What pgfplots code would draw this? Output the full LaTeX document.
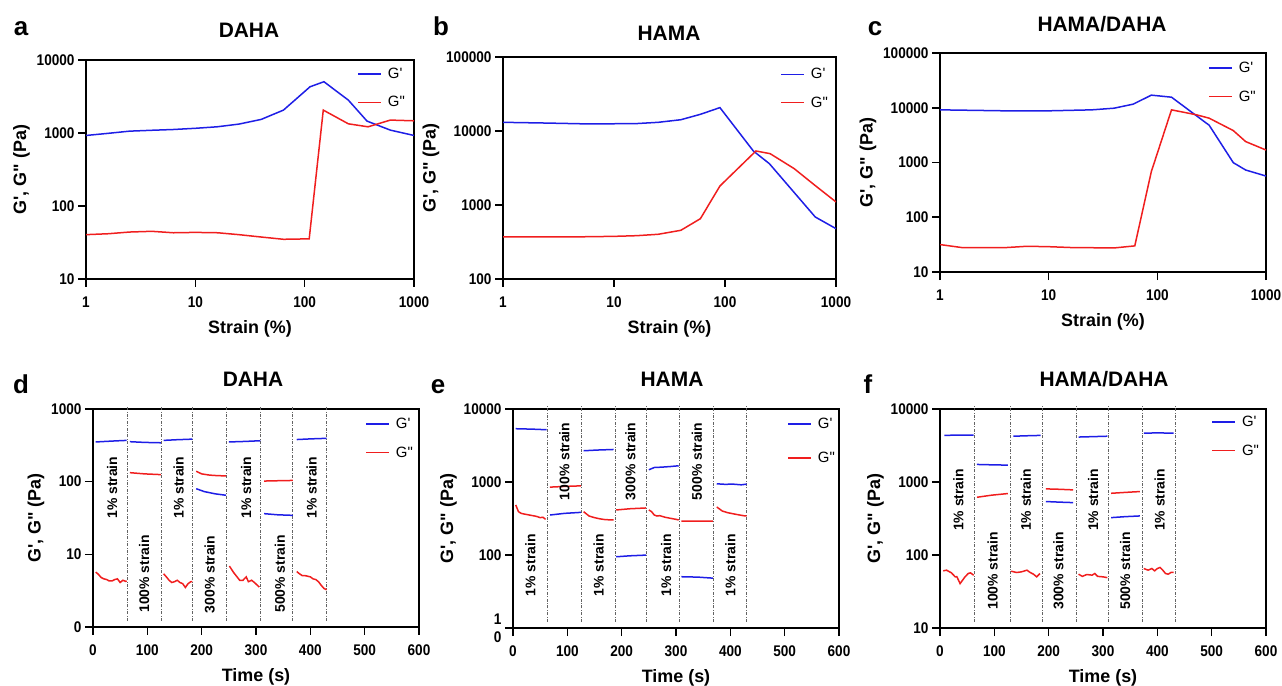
\documentclass[border=0pt]{standalone}
\usepackage{fontspec}
\setmainfont{Liberation Sans}[Ligatures=TeXOff]
\newfontfamily\tickfont{Liberation Sans}[FakeStretch=0.88,Ligatures=TeXOff]
\usepackage{pgfplots}
\pgfplotsset{compat=1.18}
\definecolor{gblue}{RGB}{30,30,230}
\definecolor{gred}{RGB}{240,30,30}
\definecolor{vgray}{RGB}{100,100,100}
\tikzset{
  gp/.style={gblue, line width=1.5bp},
  gpp/.style={gred, line width=1.5bp},
  vl/.style={vgray, line width=0.9bp, dash pattern=on 3bp off 1.5bp on 0.8bp off 1.5bp},
  st/.style={rotate=90, font=\bfseries\fontsize{14}{16}\selectfont},
}
\pgfplotsset{
  panel/.style={
    scale only axis, anchor=south west,
    axis line style={line width=2bp},
    tick style={line width=1.6bp, black},
    major tick length=8bp, tick align=outside, tick pos=left,
    minor tick style={draw=none},
    ticklabel style={font=\tickfont\fontsize{15.5}{17}\selectfont\bfseries},
    xticklabel style={yshift=-6bp},
    /pgf/number format/assume math mode=true,
    label style={font=\bfseries\fontsize{18}{21}\selectfont},
    xlabel style={yshift=-6bp},
    legend style={draw=none, fill=none, font=\fontsize{15}{18}\selectfont,
      row sep=12.5bp, column sep=4bp, inner sep=0pt, cells={anchor=west}, anchor=north east},
    legend image code/.code={\draw[##1] (0bp,0bp) -- (23bp,0bp);},
    unbounded coords=jump,
  },
  strainaxis/.style={panel, xmin=1, xmax=1000,
    xtick={1,10,100,1000}, xticklabels={1,10,100,1000},
    xlabel={Strain (\%)}, ylabel={G', G" (Pa)}},
  timeaxis/.style={panel, xmin=0, xmax=600,
    xtick={0,100,200,300,400,500,600}, xlabel={Time (s)}, ylabel={G', G" (Pa)},
    clip=false},
}
\newcommand{\ttl}[3]{\node[anchor=base, font=\bfseries\fontsize{21}{24}\selectfont] at (#1bp,-#2bp) {#3};}
\newcommand{\lt}[3]{\node[anchor=base, font=\bfseries\fontsize{26}{28}\selectfont] at (#1bp,-#2bp) {#3};}
\begin{document}
\begin{tikzpicture}
\path[use as bounding box] (0,0) rectangle (1282bp,-686bp);
\lt{21}{35}{a}\ttl{249}{37}{DAHA}
\lt{441}{35}{b}\ttl{669}{40}{HAMA}
\lt{875}{35}{c}\ttl{1102}{31}{HAMA/DAHA}
\lt{21}{393}{d}\ttl{253}{386}{DAHA}
\lt{438}{393}{e}\ttl{672}{386}{HAMA}
\lt{868}{393}{f}\ttl{1104}{386}{HAMA/DAHA}

% a
\begin{axis}[xmode=log, ymode=log, strainaxis, at={(86bp,-279bp)}, width=328bp, height=219bp,
  ymin=10, ymax=10000, ytick={10,100,1000,10000}, yticklabels={10,100,1000,10000},
  legend style={at={(0.979,0.973)}}]
\addplot[gp] coordinates {(1,925) (1.6,990) (2.5,1060) (4,1090) (6.3,1117) (10,1160) (15.8,1216) (25,1324) (40,1535) (64,2060) (112,4300) (150,5040) (251,2820) (372,1455) (608,1095) (1000,925)};
\addlegendentry{G'}
\addplot[gpp] coordinates {(1,40.5) (1.6,41.7) (2.5,44) (4,45) (6.3,43) (10,43.5) (16,43) (25,40.5) (40,37.6) (64,35) (110,35.5) (148,2060) (251,1336) (380,1216) (608,1503) (1000,1470)};
\addlegendentry{G"}
\end{axis}

% b
\begin{axis}[xmode=log, ymode=log, strainaxis, at={(503bp,-279bp)}, width=333bp, height=222bp,
  ymin=100, ymax=100000, ytick={100,1000,10000,100000}, yticklabels={100,1000,10000,100000},
  legend style={at={(0.982,0.959)}}]
\addplot[gp] coordinates {(1,13100) (2.5,12800) (6,12450) (16,12600) (25,13100) (40,14200) (60,16800) (90,20700) (180,5370) (251,3620) (650,689) (1000,479)};
\addlegendentry{G'}
\addplot[gpp] coordinates {(1,370) (4,370) (10,377) (16,385) (25,402) (40,455) (60,653) (90,1806) (190,5370) (255,4940) (420,3100) (650,1830) (1000,1100)};
\addlegendentry{G"}
\end{axis}

% c
\begin{axis}[xmode=log, ymode=log, strainaxis, at={(940bp,-272bp)}, width=326bp, height=219bp,
  ymin=10, ymax=100000, ytick={10,100,1000,10000,100000}, yticklabels={10,100,1000,10000,100000},
  legend style={at={(0.975,0.968)}}]
\addplot[gp] coordinates {(1,9160) (4,8790) (10,8790) (25,9160) (40,9820) (60,11640) (88,17000) (135,15600) (300,4790) (500,993) (650,729) (1000,566)};
\addlegendentry{G'}
\addplot[gpp] coordinates {(1,31.7) (1.6,27.9) (4,27.9) (6.3,29.5) (10,29) (16,28) (40,27.5) (62,30) (88,680) (135,9160) (230,7420) (300,6450) (500,3830) (650,2410) (1000,1690)};
\addlegendentry{G"}
\end{axis}

% d
\begin{axis}[ymode=log, timeaxis, at={(93bp,-627bp)}, width=326bp, height=218bp,
  ymin=1, ymax=1000, ytick={1,10,100,1000}, yticklabels={0,10,100,1000},
  legend style={at={(0.988,0.968)}}]
\addplot[vl, forget plot] coordinates {(62.5,1.21) (62.5,1100)};
\addplot[vl, forget plot] coordinates {(125.6,1.21) (125.6,1100)};
\addplot[vl, forget plot] coordinates {(183.8,1.21) (183.8,1100)};
\addplot[vl, forget plot] coordinates {(246.3,1.21) (246.3,1100)};
\addplot[vl, forget plot] coordinates {(308.8,1.21) (308.8,1100)};
\addplot[vl, forget plot] coordinates {(367.6,1.21) (367.6,1100)};
\addplot[vl, forget plot] coordinates {(428.9,1.21) (428.9,1100)};
\addplot[gp] coordinates {(5,352) (35,362) (62,370) (65,nan)
 (68,355) (95,347) (125,343) (127,nan)
 (130,370) (155,378) (183,385) (186,nan)
 (190,80) (205,73) (225,68) (245,65) (247,nan)
 (250,352) (280,358) (308,366) (310,nan)
 (315,36.3) (340,35) (368,34.4) (370,nan)
 (375,380) (400,388) (430,395)};
\addlegendentry{G'}
\addplot[gpp] coordinates {(5,5.7) (10,5.3) (15,4.8) (20,4.6) (25,4.5) (30,4.3) (35,4.3) (40,4.5) (45,4.6) (50,4.1) (55,4.4) (60,4.25) (62,4.3) (65,nan)
 (68,133) (95,128) (125,125) (127,nan)
 (130,5.4) (135,4.9) (140,4.4) (145,4.1) (150,4.2) (155,4.4) (160,4.1) (165,3.95) (170,3.5) (175,3.95) (180,4.2) (183,4.2) (186,nan)
 (190,139) (200,128) (215,123) (230,121) (245,120) (247,nan)
 (251,6.9) (259,5.6) (270,4.4) (276,4.4) (282,4.9) (286,4.2) (292,4.4) (297,4.1) (306,3.55) (310,nan)
 (315,102) (340,103) (368,104) (370,nan)
 (375,5.8) (380,5.4) (385,5.1) (390,5.1) (395,5.0) (400,4.9) (405,4.6) (410,4.5) (415,4.2) (420,3.75) (425,3.4) (430,3.25)};
\addlegendentry{G"}
\node[st] at (axis cs:35,82.7) {1\% strain};
\node[st] at (axis cs:157.5,82.7) {1\% strain};
\node[st] at (axis cs:282,82.7) {1\% strain};
\node[st] at (axis cs:402.6,82.7) {1\% strain};
\node[st] at (axis cs:94,5.4) {100\% strain};
\node[st] at (axis cs:214.5,5.3) {300\% strain};
\node[st] at (axis cs:344,5.4) {500\% strain};
\end{axis}

% e
\begin{axis}[ymode=log, timeaxis, at={(513bp,-628bp)}, width=326bp, height=219bp,
  ymin=10, ymax=10000, ytick={10,100,1000,10000}, yticklabels={{1\\[1bp]0},100,1000,10000},
  yticklabel style={align=right},
  legend style={at={(0.994,0.968)}, row sep=18bp}]
\addplot[vl, forget plot] coordinates {(62.6,12.1) (62.6,11000)};
\addplot[vl, forget plot] coordinates {(125.8,12.1) (125.8,11000)};
\addplot[vl, forget plot] coordinates {(188.3,12.1) (188.3,11000)};
\addplot[vl, forget plot] coordinates {(244.8,12.1) (244.8,11000)};
\addplot[vl, forget plot] coordinates {(306.7,12.1) (306.7,11000)};
\addplot[vl, forget plot] coordinates {(369.3,12.1) (369.3,11000)};
\addplot[vl, forget plot] coordinates {(429.4,12.1) (429.4,11000)};
\addplot[gp] coordinates {(5,5370) (35,5300) (62,5200) (65,nan)
 (68,353) (95,372) (125,384) (127,nan)
 (130,2680) (155,2740) (185,2790) (187,nan)
 (190,94.6) (215,97.5) (245,99.7) (247,nan)
 (250,1470) (260,1580) (275,1600) (290,1630) (305,1670) (307,nan)
 (310,50.4) (340,49.8) (368,48.2) (370,nan)
 (375,945) (390,930) (405,935) (420,915) (430,935)};
\addlegendentry{G'}
\addplot[gpp] coordinates {(5,485) (10,393) (15,372) (20,365) (30,353) (40,342) (45,335) (50,325) (55,329) (60,308) (65,nan)
 (68,851) (95,870) (125,886) (127,nan)
 (130,392) (140,342) (150,325) (160,313) (170,305) (185,302) (187,nan)
 (190,414) (215,430) (245,441) (247,nan)
 (250,414) (255,393) (260,353) (265,342) (270,346) (280,329) (290,318) (300,308) (305,302) (307,nan)
 (310,292) (340,292) (368,292) (370,nan)
 (375,455) (385,401) (395,380) (410,361) (425,345) (430,343)};
\addlegendentry{G"}
\node[st] at (axis cs:32,72.6) {1\% strain};
\node[st] at (axis cs:157.6,72.6) {1\% strain};
\node[st] at (axis cs:282,72.6) {1\% strain};
\node[st] at (axis cs:400,72.6) {1\% strain};
\node[st] at (axis cs:94.5,1910) {100\% strain};
\node[st] at (axis cs:216,1910) {300\% strain};
\node[st] at (axis cs:338.6,1910) {500\% strain};
\end{axis}

% f
\begin{axis}[ymode=log, timeaxis, at={(940bp,-628bp)}, width=326bp, height=219bp,
  ymin=10, ymax=10000, ytick={10,100,1000,10000}, yticklabels={10,100,1000,10000},
  legend style={at={(0.985,0.977)}}]
\addplot[vl, forget plot] coordinates {(63.2,12.1) (63.2,11000)};
\addplot[vl, forget plot] coordinates {(130,12.1) (130,11000)};
\addplot[vl, forget plot] coordinates {(188.3,12.1) (188.3,11000)};
\addplot[vl, forget plot] coordinates {(251.5,12.1) (251.5,11000)};
\addplot[vl, forget plot] coordinates {(309.8,12.1) (309.8,11000)};
\addplot[vl, forget plot] coordinates {(372.4,12.1) (372.4,11000)};
\addplot[vl, forget plot] coordinates {(432.5,12.1) (432.5,11000)};
\addplot[gp] coordinates {(8,4350) (35,4400) (62,4400) (65,nan)
 (68,1740) (95,1720) (125,1703) (128,nan)
 (135,4240) (160,4300) (185,4350) (187,nan)
 (195,540) (220,530) (245,522) (250,nan)
 (255,4130) (280,4180) (308,4240) (310,nan)
 (315,325) (340,335) (368,343) (370,nan)
 (375,4680) (400,4700) (430,4680)};
\addlegendentry{G'}
\addplot[gpp] coordinates {(6,60.7) (12,62) (21,57) (28,50.2) (31,50.5) (37,40.6) (46,50.2) (52,55.8) (56,57) (62,52.9) (65,nan)
 (68,618) (95,660) (125,695) (128,nan)
 (131,60) (141,57.6) (150,58.8) (160,62) (166,57.6) (172,54.6) (178,50.2) (184,55.8) (187,nan)
 (195,805) (220,795) (245,780) (250,nan)
 (255,54.6) (262,51) (270,54) (280,53) (285,55.8) (290,51) (300,50.2) (308,49) (310,nan)
 (315,701) (340,720) (368,740) (370,nan)
 (375,65.3) (383,62) (390,65.3) (395,60.7) (400,65.3) (405,67.5) (410,62) (415,55.8) (420,54.6) (425,57.6) (430,57.6)};
\addlegendentry{G"}
\node[st] at (axis cs:34,568) {1\% strain};
\node[st] at (axis cs:158,568) {1\% strain};
\node[st] at (axis cs:282,568) {1\% strain};
\node[st] at (axis cs:404,568) {1\% strain};
\node[st] at (axis cs:97,60.7) {100\% strain};
\node[st] at (axis cs:218,60.7) {300\% strain};
\node[st] at (axis cs:340.5,60.7) {500\% strain};
\end{axis}
\end{tikzpicture}
\end{document}
